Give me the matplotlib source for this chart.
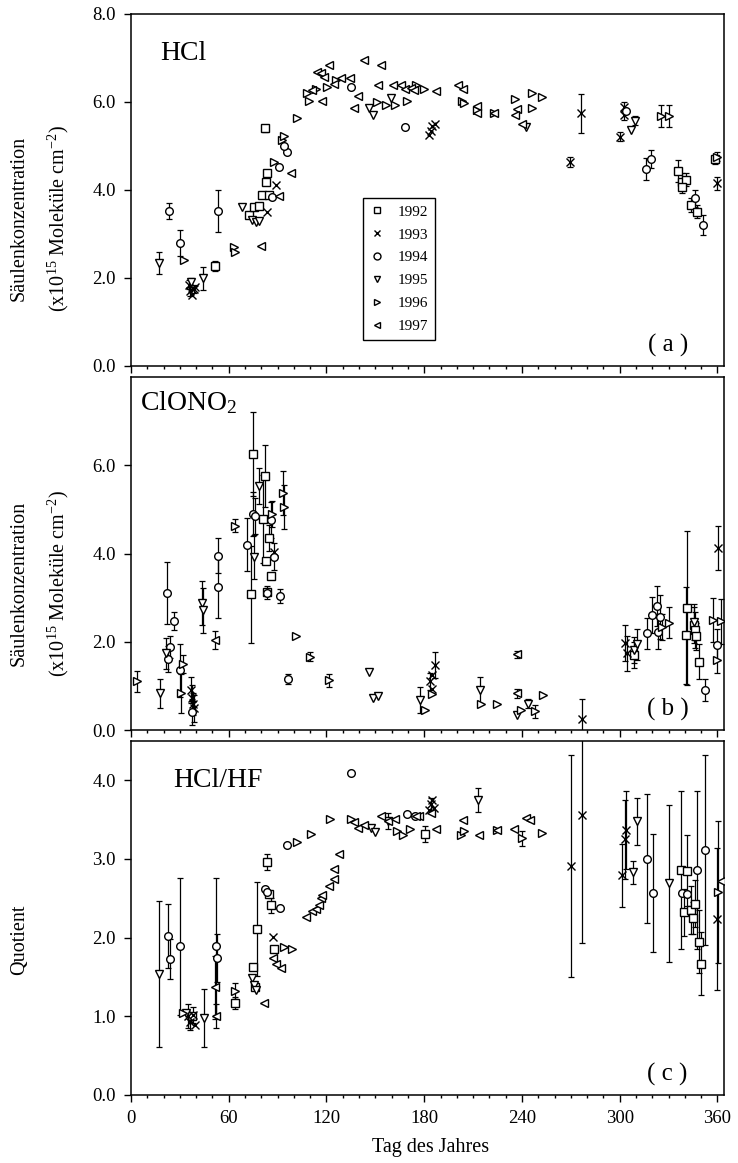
import numpy as np
import matplotlib.pyplot as plt
from matplotlib.lines import Line2D
from matplotlib.ticker import MultipleLocator, FormatStrFormatter

plt.rcParams['font.family'] = ['Liberation Serif', 'DejaVu Serif']
plt.rcParams['mathtext.fontset'] = 'custom'
plt.rcParams['mathtext.rm'] = 'Liberation Serif'
plt.rcParams['mathtext.it'] = 'Liberation Serif:italic'

YEARS = [1992, 1993, 1994, 1995, 1996, 1997]
MARKERS = ['s', 'x', 'o', 'v', '>', '<']

# Messwerte: (Tag des Jahres, Wert, Fehler); Fehler 0 = ohne Fehlerbalken
# (a) HCl-Säule in 1e15 Moleküle/cm2
HCL_1992 = [(51.4, 2.27, 0.12), (72.4, 3.43, 0), (75.5, 3.62, 0), (78.5, 3.64, 0), (80.6, 3.89, 0),
            (84.7, 3.89, 0), (82.6, 4.19, 0), (83.6, 4.38, 0), (82.0, 5.40, 0.08), (336.0, 4.42, 0.25),
            (338.5, 4.19, 0.2), (340.5, 4.23, 0.15), (338.0, 4.07, 0.15), (343.6, 3.66, 0.15),
            (347.6, 3.51, 0.15), (358.5, 4.70, 0.1)]
HCL_1993 = [(35.5, 1.85, 0.1), (36.5, 1.70, 0.1), (37.5, 1.62, 0), (38.5, 1.75, 0.1), (39.5, 1.80, 0),
            (83.6, 3.50, 0), (88.8, 4.11, 0), (183.0, 5.25, 0), (184.0, 5.35, 0), (185.0, 5.45, 0),
            (186.5, 5.50, 0), (269.6, 4.64, 0.12), (276.2, 5.74, 0.45), (300.4, 5.21, 0.1),
            (302.5, 5.89, 0.1), (302.5, 5.70, 0.1), (360.0, 4.15, 0.15)]
HCL_1994 = [(23.6, 3.52, 0.18), (29.8, 2.79, 0.3), (53.2, 3.52, 0.48), (86.7, 3.85, 0), (90.8, 4.53, 0),
            (95.5, 4.87, 0), (94.0, 5.00, 0), (135.0, 6.35, 0), (168.3, 5.44, 0), (315.9, 4.47, 0.25),
            (319.0, 4.70, 0.2), (346.2, 3.81, 0.2), (351.2, 3.20, 0.22), (304.0, 5.80, 0)]
HCL_1995 = [(17.3, 2.33, 0.25), (37.0, 1.90, 0.1), (44.2, 1.99, 0.27), (68.2, 3.62, 0), (74.4, 3.32, 0),
            (76.5, 3.28, 0), (78.5, 3.30, 0), (146.3, 5.86, 0), (148.4, 5.70, 0), (159.7, 6.08, 0),
            (242.3, 5.44, 0), (307.0, 5.37, 0), (309.3, 5.57, 0.1)]
HCL_1996 = [(32.3, 2.41, 0), (63.0, 2.70, 0), (64.0, 2.60, 0), (87.8, 4.64, 0), (93.0, 5.13, 0),
            (93.9, 5.22, 0), (101.7, 5.63, 0), (108.3, 6.20, 0), (109.3, 6.02, 0), (113.4, 6.29, 0),
            (120.6, 6.33, 0), (125.8, 6.50, 0), (150.9, 6.00, 0), (156.4, 5.94, 0), (161.9, 5.94, 0),
            (169.7, 6.02, 0), (174.9, 6.39, 0), (180.0, 6.30, 0), (202.9, 6.03, 0), (204.5, 5.98, 0),
            (212.5, 5.82, 0), (222.8, 5.74, 0), (235.7, 6.06, 0), (246.0, 6.20, 0), (252.2, 6.11, 0),
            (246.4, 5.86, 0), (325.1, 5.68, 0.25), (330.2, 5.68, 0.25), (359.5, 4.76, 0.1)]
HCL_1997 = [(80.0, 2.73, 0), (91.0, 3.86, 0), (98.4, 4.39, 0), (111.3, 6.27, 0), (117.5, 6.02, 0),
            (114.3, 6.69, 0), (116.4, 6.65, 0), (118.4, 6.57, 0), (121.6, 6.84, 0), (124.7, 6.40, 0),
            (128.9, 6.55, 0), (134.6, 6.55, 0), (139.5, 6.14, 0), (137.1, 5.86, 0), (142.8, 6.95, 0),
            (151.9, 6.38, 0), (153.5, 6.84, 0), (160.8, 6.38, 0), (165.9, 6.38, 0), (168.0, 6.30, 0),
            (171.7, 6.32, 0), (173.8, 6.27, 0), (187.4, 6.25, 0), (200.8, 6.38, 0), (203.9, 6.30, 0),
            (212.5, 5.90, 0), (212.5, 5.74, 0), (222.8, 5.74, 0), (236.7, 5.83, 0), (236.0, 5.70, 0),
            (240.0, 5.50, 0)]

# (b) ClONO2-Säule in 1e15 Moleküle/cm2
CLONO2_1992 = [(73.8, 3.08, 1.1), (74.6, 6.26, 0.95), (82.0, 5.76, 0.7), (81.0, 4.78, 1.0),
               (82.6, 3.82, 0), (83.6, 3.12, 0.15), (84.7, 4.35, 0.3), (86.1, 3.48, 0), (308.7, 1.70, 0.3),
               (341.5, 2.76, 1.75), (340.9, 2.15, 1.1), (345.7, 2.38, 0.4), (346.5, 2.27, 0.4),
               (347.1, 2.12, 0.3), (348.8, 1.55, 0.4)]
CLONO2_1993 = [(36.8, 0.91, 0.3), (37.5, 0.72, 0.3), (38.0, 0.60, 0.25), (38.4, 0.49, 0.3), (87.8, 4.04, 0),
               (183.3, 1.10, 0.2), (184.5, 1.25, 0), (186.4, 1.47, 0.3), (185.0, 0.93, 0),
               (276.8, 0.26, 0.45), (303.5, 1.97, 0.4), (304.5, 1.74, 0.4), (360.6, 4.12, 0.5)]
CLONO2_1994 = [(22.0, 3.11, 0.7), (23.0, 1.61, 0.3), (24.0, 1.89, 0.25), (26.7, 2.47, 0.2), (30.2, 1.35, 0.6),
               (37.5, 0.41, 0.3), (53.4, 3.95, 0.4), (53.4, 3.24, 0.7), (71.3, 4.20, 0.6), (75.0, 4.90, 0.5),
               (76.0, 4.85, 0.4), (83.6, 3.10, 0), (86.0, 4.76, 0.4), (87.8, 3.93, 0.3), (91.5, 3.04, 0.15),
               (96.4, 1.16, 0.12), (316.9, 2.19, 0.35), (319.6, 2.61, 0.4), (322.6, 2.81, 0.45),
               (323.6, 2.23, 0.4), (324.6, 2.57, 0.5), (352.4, 0.91, 0.25), (360.0, 1.93, 0.35)]
CLONO2_1995 = [(17.5, 0.83, 0.32), (21.6, 1.74, 0.35), (43.6, 2.87, 0.5), (44.2, 2.71, 0.5), (75.8, 3.93, 0.5),
               (78.5, 5.53, 0.4), (146.3, 1.32, 0), (148.4, 0.72, 0), (151.5, 0.76, 0), (177.1, 0.68, 0.3),
               (214.1, 0.91, 0.3), (236.7, 0.35, 0), (243.7, 0.60, 0.1), (308.7, 1.81, 0.3),
               (310.7, 1.94, 0.35), (345.5, 2.45, 0.4)]
CLONO2_1996 = [(3.5, 1.10, 0.23), (30.8, 0.83, 0.45), (31.8, 1.50, 0.2), (64.1, 4.63, 0.15), (86.5, 4.90, 0.3),
               (93.3, 5.37, 0.5), (93.9, 5.06, 0.5), (101.1, 2.12, 0), (110.0, 1.66, 0.1), (121.7, 1.13, 0.15),
               (180.3, 0.45, 0), (185.0, 0.82, 0), (214.7, 0.60, 0), (224.4, 0.60, 0), (239.2, 0.45, 0),
               (248.0, 0.42, 0.15), (253.2, 0.79, 0), (326.0, 2.34, 0.3), (330.2, 2.43, 0.35),
               (357.4, 2.49, 0.5), (362.0, 2.46, 0.5), (360.0, 1.59, 0.3)]
CLONO2_1997 = [(51.8, 2.04, 0.2), (236.7, 1.72, 0.08), (236.7, 0.83, 0.1)]

# (c) Verhältnis HCl/HF
RATIO_1992 = [(37.5, 1.00, 0), (64.1, 1.17, 0.08), (75.0, 1.63, 0), (77.5, 2.11, 0.6), (76.1, 1.37, 0),
              (83.6, 2.96, 0.1), (84.7, 2.55, 0), (85.7, 2.41, 0.1), (88.0, 1.86, 0), (180.2, 3.32, 0.1),
              (337.6, 2.86, 1.0), (341.0, 2.85, 0.45), (339.5, 2.32, 0.3), (344.0, 2.35, 0.3),
              (346.0, 2.43, 0.3), (345.0, 2.25, 0.2), (348.8, 1.95, 0.4), (350.2, 1.67, 0.4)]
RATIO_1993 = [(35.0, 1.00, 0.15), (36.5, 0.93, 0.1), (38.0, 1.02, 0.1), (39.5, 0.89, 0), (87.3, 2.01, 0),
              (183.0, 3.62, 0), (184.0, 3.70, 0.08), (185.0, 3.75, 0), (186.0, 3.65, 0), (270.2, 2.91, 1.41),
              (276.8, 3.56, 1.63), (301.5, 2.79, 0.4), (303.0, 3.25, 0.5), (304.0, 3.37, 0.5), (360.0, 2.24, 0.9)]
RATIO_1994 = [(22.6, 2.02, 0.41), (24.0, 1.73, 0.25), (29.8, 1.89, 0.87), (52.4, 1.89, 0.87), (53.0, 1.74, 0.3),
              (82.0, 2.62, 0), (83.6, 2.58, 0), (91.5, 2.38, 0), (95.5, 3.18, 0), (135.0, 4.09, 0),
              (169.5, 3.57, 0), (174.2, 3.54, 0), (316.9, 3.00, 0.82), (320.4, 2.57, 0.75), (338.5, 2.57, 0),
              (341.0, 2.55, 0), (347.6, 2.86, 1.0), (352.4, 3.11, 1.21)]
RATIO_1995 = [(17.3, 1.54, 0.93), (34.0, 1.04, 0), (44.6, 0.98, 0.37), (74.4, 1.49, 0), (75.5, 1.40, 0),
              (77.0, 1.34, 0), (147.6, 3.39, 0), (150.0, 3.34, 0), (157.6, 3.48, 0.1), (213.1, 3.75, 0.15),
              (308.3, 2.83, 0.15), (310.7, 3.48, 0.3), (330.2, 2.69, 1.0)]
RATIO_1996 = [(31.8, 1.04, 0), (64.1, 1.32, 0.1), (93.9, 1.88, 0), (99.0, 1.86, 0), (101.9, 3.21, 0),
              (110.3, 3.32, 0), (122.3, 3.51, 0), (135.0, 3.51, 0), (163.0, 3.35, 0), (167.0, 3.30, 0),
              (171.0, 3.38, 0), (202.7, 3.30, 0), (204.5, 3.36, 0), (224.4, 3.37, 0), (240.0, 3.26, 0.1),
              (252.2, 3.33, 0), (360.6, 2.58, 0.9)]
RATIO_1997 = [(51.8, 1.37, 0.4), (52.0, 1.00, 0.15), (81.4, 1.17, 0), (87.3, 1.74, 0), (89.0, 1.67, 0),
              (91.9, 1.61, 0), (107.3, 2.26, 0), (111.3, 2.34, 0), (113.4, 2.36, 0), (115.4, 2.42, 0),
              (116.4, 2.50, 0), (117.5, 2.54, 0), (121.6, 2.65, 0), (124.7, 2.74, 0), (124.7, 2.87, 0),
              (127.9, 3.06, 0), (137.0, 3.47, 0), (139.5, 3.39, 0), (143.0, 3.43, 0), (153.5, 3.54, 0),
              (157.6, 3.48, 0), (161.8, 3.51, 0), (176.9, 3.54, 0), (175.0, 3.55, 0), (184.0, 3.58, 0),
              (187.4, 3.38, 0), (203.9, 3.49, 0), (213.5, 3.30, 0), (224.4, 3.37, 0), (235.3, 3.38, 0),
              (242.5, 3.52, 0), (244.9, 3.49, 0), (362.0, 2.72, 0)]

PANELS = [
    ('HCl', '( a )', [HCL_1992, HCL_1993, HCL_1994, HCL_1995, HCL_1996, HCL_1997], 8.0, [0, 2, 4, 6, 8]),
    ('ClONO$_2$', '( b )', [CLONO2_1992, CLONO2_1993, CLONO2_1994, CLONO2_1995, CLONO2_1996, CLONO2_1997],
     8.0, [0, 2, 4, 6]),
    ('HCl/HF', '( c )', [RATIO_1992, RATIO_1993, RATIO_1994, RATIO_1995, RATIO_1996, RATIO_1997],
     4.5, [0, 1, 2, 3, 4]),
]
# Position der Panel-Überschrift (Achsenkoordinaten)
TITLE_POS = [(0.05, 0.87), (0.015, 0.905), (0.071, 0.87)]


def draw_year(ax, points, marker):
    d, v, e = np.array(points, dtype=float).T
    with_err = e > 0
    if with_err.any():
        ax.errorbar(d[with_err], v[with_err], yerr=e[with_err], fmt='none', ecolor='k',
                    elinewidth=0.9, capsize=2.2, capthick=0.9, zorder=2)
    ms = 5.2 if marker == 'x' else 5.5
    ax.plot(d, v, linestyle='none', marker=marker, ms=ms, mfc='white', mec='k', mew=1.0, zorder=3)


fig = plt.figure(figsize=(7.38, 11.63), dpi=100)
boxes = [(0.1775, 0.6853, 0.8035, 0.3027),
         (0.1775, 0.3723, 0.8035, 0.3035),
         (0.1775, 0.0585, 0.8035, 0.3044)]

axes = []
for (name, tag, series, ytop, yticks), box, tpos in zip(PANELS, boxes, TITLE_POS):
    ax = fig.add_axes(box)
    axes.append(ax)
    for points, marker in zip(series, MARKERS):
        draw_year(ax, points, marker)
    ax.set_xlim(0, 364)
    ax.set_ylim(0, ytop)
    ax.set_xticks(np.arange(0, 361, 60))
    ax.xaxis.set_minor_locator(MultipleLocator(10))
    ax.set_yticks(yticks)
    ax.yaxis.set_major_formatter(FormatStrFormatter('%.1f'))
    ax.tick_params(which='both', direction='out', top=False, right=False, width=1.0)
    ax.tick_params(which='major', length=5, labelsize=13.5, pad=6)
    ax.tick_params(which='minor', length=2.5)
    for sp in ax.spines.values():
        sp.set_linewidth(1.1)
    ax.text(tpos[0], tpos[1], name, transform=ax.transAxes, fontsize=20, va='baseline', ha='left')
    ax.text(0.905, 0.04, tag, transform=ax.transAxes, fontsize=18, va='baseline', ha='center')

for ax in axes[:2]:
    ax.tick_params(labelbottom=False)

handles = [Line2D([], [], linestyle='none', marker=m, ms=5.0, mfc='white', mec='k', mew=1.0)
           for m in MARKERS]
leg = axes[0].legend(handles, [str(y) for y in YEARS], loc='upper left',
                     bbox_to_anchor=(0.391, 0.477), borderaxespad=0, fontsize=11,
                     handlelength=1.0, handletextpad=0.8, labelspacing=0.6, borderpad=0.45,
                     fancybox=False, framealpha=1, edgecolor='k')
leg.get_frame().set_linewidth(1.0)

# Achsenbeschriftungen
for yc in (0.812, 0.498):
    fig.text(0.026, yc, 'Säulenkonzentration', rotation=90, fontsize=14.5, ha='center', va='center')
    fig.text(0.079, yc, '(x10$^{15}$ Moleküle cm$^{-2}$)', rotation=90, fontsize=14.5,
             ha='center', va='center')
fig.text(0.026, 0.192, 'Quotient', rotation=90, fontsize=14.5, ha='center', va='center')
fig.text(0.583, 0.013, 'Tag des Jahres', fontsize=14.5, ha='center', va='center')

fig.savefig('out.png', dpi=100)
